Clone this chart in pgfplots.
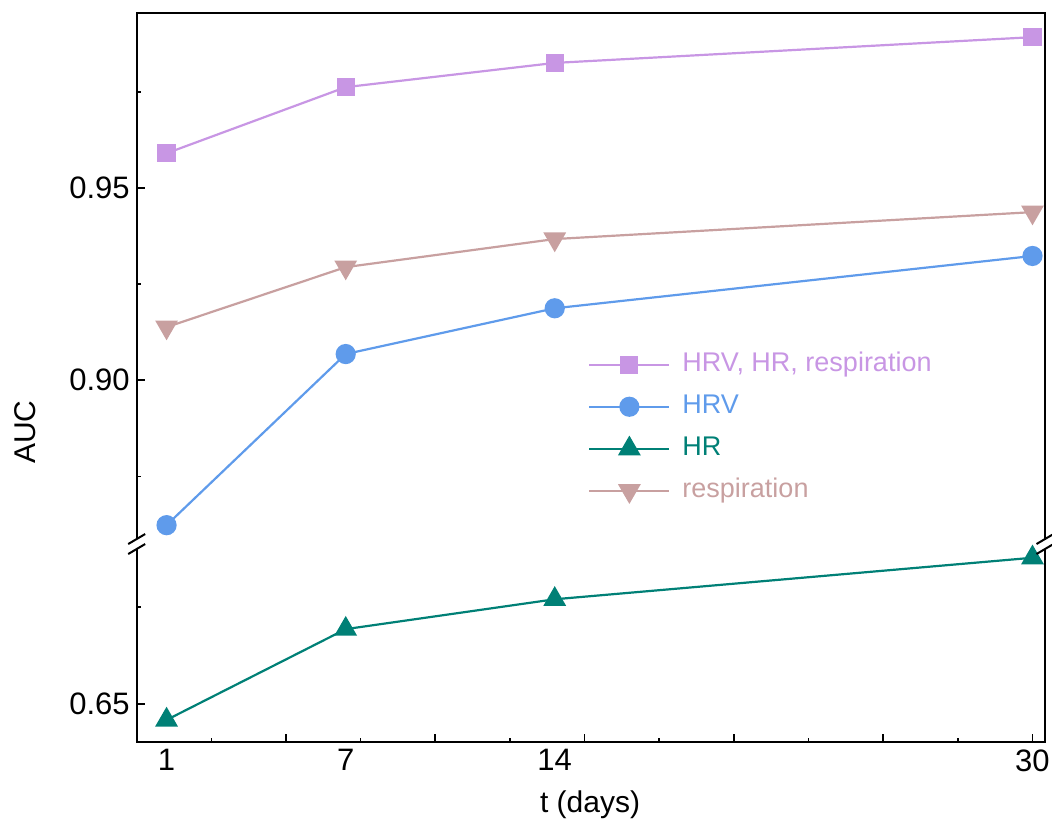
\documentclass[border=0pt]{standalone}
\usepackage{pgfplots}
\pgfplotsset{compat=1.18}
\usetikzlibrary{calc}
\usepackage{fontspec}
\setmainfont{Liberation Sans}
\definecolor{cA}{HTML}{C896E4}
\definecolor{cB}{HTML}{5F9BEB}
\definecolor{cC}{HTML}{008076}
\definecolor{cD}{HTML}{C8A0A0}
\begin{document}
\begin{tikzpicture}
\path[use as bounding box] (0,0) rectangle (526pt,-413pt);
\pgfplotsset{
  brk/.style={
    scale only axis, width=454.15pt,
    xmin=0, xmax=30.42,
    clip=false,
    axis line style={draw=none},
    tick align=inside,
    major tick length=4pt, minor tick length=2pt,
    every tick/.style={black, line width=0.8pt},
    every minor tick/.style={black, line width=0.8pt},
    ytick pos=left,
    /pgf/number format/assume math mode=true,
    tick label style={font=\fontsize{15.5}{17}\selectfont},
    yticklabel style={/pgf/number format/fixed, /pgf/number format/precision=2, /pgf/number format/fixed zerofill},
    every axis plot/.append style={line width=1.1pt},
  }
}
% upper part
\begin{axis}[brk, name=upper,
  at={(68.35pt,-269.5pt)}, anchor=south west,
  height=262.85pt,
  ymin=0.8587, ymax=0.9954,
  xtick=\empty,
  ytick={0.90,0.95}, minor ytick={0.875,0.925,0.975},
  legend style={at={(axis cs:15.11,0.9075)}, anchor=north west, draw=none, fill=none,
    inner sep=0pt, row sep=8pt,
    nodes={text height=10pt, text depth=3pt, inner sep=0pt, font=\fontsize{13.5}{15}\selectfont}},
  legend cell align=left,
  /tikz/every odd column/.append style={column sep=6pt},
  legend image code/.code={\draw[mark repeat=2,mark phase=2] plot coordinates {(0pt,0pt) (20pt,0pt) (40pt,0pt)};},
]
\addplot[cA, mark=square*, mark size=4pt, mark options={solid}] coordinates {(1,0.959) (7,0.9762) (14,0.9825) (30,0.9892)};
\addlegendentry{\textcolor{cA}{HRV, HR, respiration}}
\addplot[cB, mark=*, mark size=4.5pt] coordinates {(1,0.8623) (7,0.9068) (14,0.9187) (30,0.9323)};
\addlegendentry{\textcolor{cB}{HRV}}
\addlegendimage{cC, line width=1.1pt, mark=triangle*, mark size=5.5pt}
\addlegendentry{\textcolor{cC}{HR}}
\addplot[cD, mark=triangle*, mark size=5.5pt, mark options={rotate=180}] coordinates {(1,0.9138) (7,0.9294) (14,0.9367) (30,0.9437)};
\addlegendentry{\textcolor{cD}{respiration}}
\draw[line width=1pt] (rel axis cs:0,0) -- (rel axis cs:0,1) -- (rel axis cs:1,1) -- (rel axis cs:1,0);
\end{axis}
% lower part
\begin{axis}[brk, name=lower,
  at={(68.35pt,-274.5pt)}, anchor=north west,
  height=96.65pt,
  ymin=0.64013, ymax=0.68995,
  xtick={0,5,...,30}, xticklabels={},
  minor xtick={2.5,7.5,...,27.5},
  xtick pos=left,
  extra x ticks={1,7,14,30}, extra x tick labels={1,7,14,30},
  extra x tick style={major tick length=0pt},
  ytick={0.65}, minor ytick={0.675},
]
\addplot[cC, mark=triangle*, mark size=5.5pt] coordinates {(1,0.6459) (7,0.6693) (14,0.6770) (30,0.6877)};
\draw[line width=1pt] (rel axis cs:0,1) -- (rel axis cs:0,0) -- (rel axis cs:1,0) -- (rel axis cs:1,1);
\end{axis}
% break marks
\foreach \p in {upper.south west, upper.south east, lower.north west, lower.north east}{
  \draw[line width=1pt] ($(\p)+(-4.25pt,-2.5pt)$) -- ($(\p)+(4.25pt,2.5pt)$);
}
\node[rotate=90, font=\fontsize{15}{17}\selectfont] at (12.5pt,-216pt) {AUC};
\node[font=\fontsize{15}{17}\selectfont] at (295pt,-402.5pt) {t (days)};
\end{tikzpicture}
\end{document}
